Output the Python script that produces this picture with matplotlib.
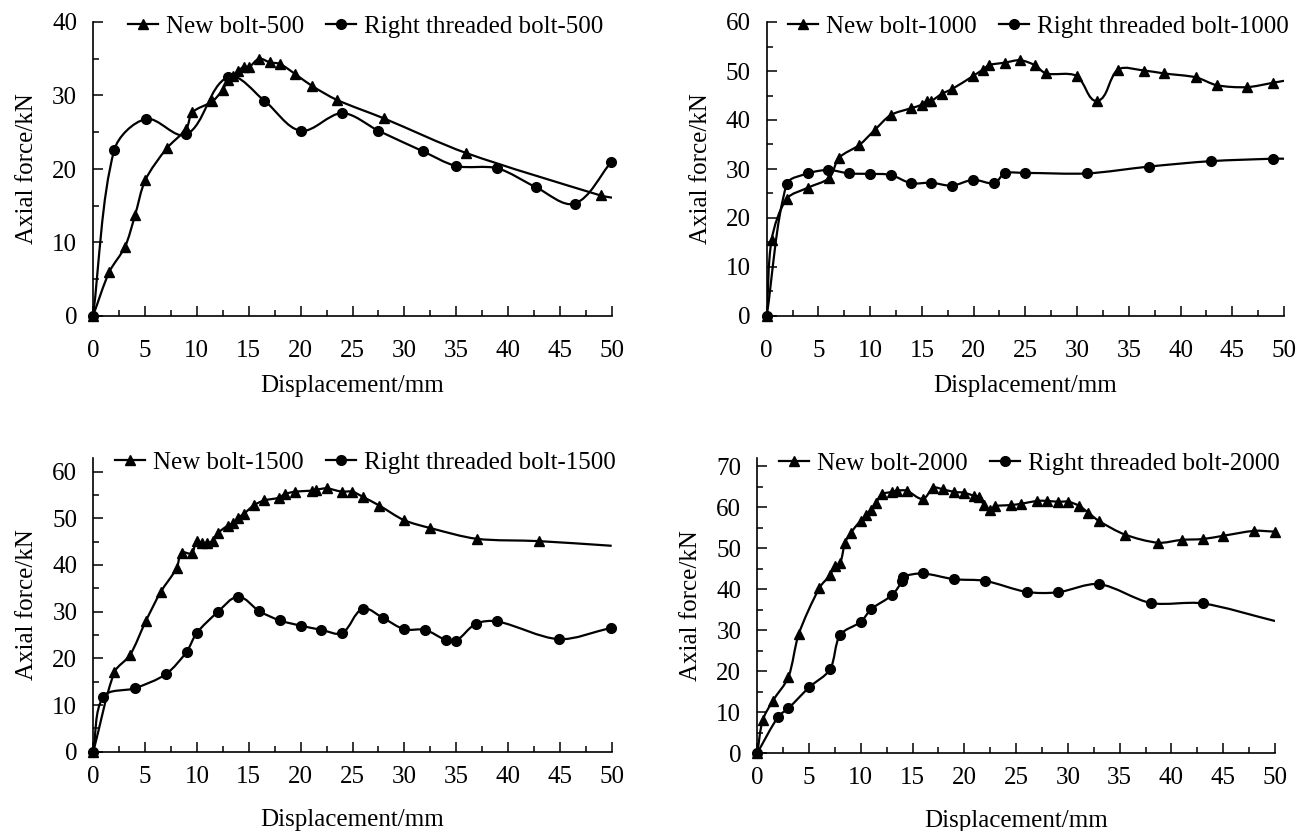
import matplotlib
matplotlib.use("Agg")
import matplotlib.pyplot as plt
from matplotlib.path import Path
from matplotlib.patches import PathPatch
from matplotlib.ticker import MultipleLocator
from matplotlib.lines import Line2D
import numpy as np

plt.rcParams['font.family'] = ['Liberation Serif', 'DejaVu Serif']
plt.rcParams['font.size'] = 18

# ---------------- data ----------------
# Panel 1 (500)
new500_x = [0, 1.57, 3.08, 4.05, 5.04, 7.1, 9.0, 9.57, 11.5, 12.5, 13.0, 13.5, 14.0, 14.5, 15.06,
            16.0, 17.05, 18.0, 19.5, 21.1, 23.5, 28.0, 35.9, 48.9, 50.0]
new500_y = [0, 6.0, 9.4, 13.7, 18.5, 22.8, 25.5, 27.7, 29.2, 30.8, 32.1, 32.6, 33.3, 33.9, 33.9,
            35.0, 34.5, 34.3, 32.9, 31.3, 29.4, 26.9, 22.2, 16.4, 16.1]
rt500_x = [0, 2.05, 5.1, 9.0, 13.0, 16.5, 20.0, 24.0, 27.5, 31.8, 35.0, 38.95, 42.7, 46.4, 49.9]
rt500_y = [0, 22.6, 26.8, 24.7, 32.5, 29.3, 25.2, 27.6, 25.2, 22.4, 20.4, 20.1, 17.5, 15.3, 20.9]

# Panel 2 (1000)
new1000_x = [0, 0.48, 1.93, 4.0, 6.05, 7.0, 8.95, 10.46, 11.98, 13.94, 14.97, 15.5, 15.9, 16.97,
             17.9, 19.96, 20.9, 21.5, 23.0, 24.5, 25.9, 27.0, 29.95, 31.95, 33.97, 36.45, 38.4,
             41.5, 43.5, 46.4, 48.95, 50.0]
new1000_y = [0, 15.6, 23.9, 26.2, 28.2, 32.3, 34.9, 38.0, 41.0, 42.4, 43.1, 43.9, 43.9, 45.4,
             46.3, 49.0, 50.3, 51.2, 51.7, 52.2, 51.2, 49.5, 49.0, 43.9, 50.3, 50.1, 49.5,
             48.7, 47.1, 46.7, 47.6, 48.0]
rt1000_x = [0, 1.93, 4.0, 5.95, 7.98, 9.98, 11.98, 13.94, 15.9, 17.9, 19.96, 22.0, 23.0, 24.96,
            30.98, 36.97, 42.9, 48.95, 50.0]
rt1000_y = [0, 26.9, 29.1, 29.8, 29.1, 29.0, 28.8, 27.1, 27.2, 26.6, 27.8, 27.1, 29.1, 29.2,
            29.1, 30.5, 31.6, 32.1, 32.1]

# Panel 3 (1500)
new1500_x = [0, 2.03, 3.54, 5.05, 6.5, 8.04, 8.52, 9.49, 9.97, 10.45, 11.0, 11.5, 12.0, 12.96,
             13.5, 13.98, 14.5, 15.5, 16.46, 17.9, 18.5, 19.5, 21.06, 21.5, 22.5, 23.95, 24.98,
             25.98, 27.6, 29.96, 32.5, 36.97, 42.95, 50.0]
new1500_y = [0, 17.0, 20.7, 27.9, 34.2, 39.3, 42.6, 42.5, 45.2, 44.6, 44.6, 45.2, 46.8, 48.4,
             48.9, 50.1, 50.9, 52.8, 53.8, 54.4, 55.2, 55.7, 55.9, 56.1, 56.4, 55.7, 55.7,
             54.6, 52.7, 49.6, 47.9, 45.6, 45.1, 44.1]
rt1500_x = [0, 0.97, 4.02, 7.0, 9.0, 9.97, 12.0, 13.98, 16.0, 18.0, 20.0, 22.0, 24.0, 25.98,
            27.97, 30.0, 32.0, 34.0, 34.97, 36.9, 38.97, 44.9, 49.9]
rt1500_y = [0, 11.8, 13.6, 16.6, 21.4, 25.4, 29.9, 33.2, 30.1, 28.1, 27.0, 26.1, 25.4, 30.6,
            28.6, 26.2, 26.1, 23.9, 23.7, 27.4, 27.9, 24.1, 26.5]

# Panel 4 (2000)
new2000_x = [0, 0.52, 1.49, 3.0, 4.0, 6.0, 7.02, 7.5, 8.0, 8.47, 9.02, 9.99, 10.5, 10.99, 11.47,
             12.0, 13.0, 13.47, 14.43, 15.98, 17.0, 17.97, 19.0, 19.97, 20.97, 21.45, 21.9,
             22.5, 22.97, 24.5, 25.5, 27.0, 28.0, 29.0, 30.05, 31.08, 31.98, 33.0, 35.5, 38.7,
             41.0, 43.0, 45.0, 48.0, 50.0]
new2000_y = [0, 8.0, 12.7, 18.5, 29.0, 40.3, 43.4, 45.7, 46.3, 51.3, 53.7, 56.7, 58.0, 59.4, 61.0,
             63.1, 63.7, 64.0, 64.0, 62.0, 64.7, 64.3, 63.7, 63.5, 62.7, 62.4, 60.5,
             59.3, 60.2, 60.5, 60.8, 61.5, 61.5, 61.3, 61.3, 60.3, 58.6, 56.6, 53.3, 51.3,
             52.0, 52.2, 53.0, 54.2, 54.0]
rt2000_x = [0, 2.03, 3.0, 5.0, 7.02, 8.0, 10.0, 11.0, 13.0, 14.0, 14.05, 15.98, 19.0, 22.0, 26.0,
            29.0, 33.0, 38.0, 43.0, 50.0]
rt2000_y = [0, 8.9, 10.9, 16.0, 20.4, 28.8, 32.0, 35.1, 38.5, 42.0, 43.0, 43.8, 42.4, 42.0, 39.3,
            39.2, 41.2, 36.6, 36.5, 32.2]

new_labels = ['New bolt-500', 'New bolt-1000', 'New bolt-1500', 'New bolt-2000']
rt_labels = ['Right threaded bolt-500', 'Right threaded bolt-1000',
             'Right threaded bolt-1500', 'Right threaded bolt-2000']
x_label = 'Displacement/mm'
y_label = 'Axial force/kN'


# ---------------- helpers ----------------
def smooth_path(ax, x, y, t=0.3):
    """Smoothed line through the points (bezier built in display space)."""
    data = np.column_stack([np.asarray(x, float), np.asarray(y, float)])
    pts = ax.transData.transform(data)
    n = len(pts)
    verts = [pts[0]]
    codes = [Path.MOVETO]

    def unit(v):
        nv = np.hypot(*v)
        return v / nv if nv > 0 else v

    for i in range(n - 1):
        p0 = pts[i - 1] if i > 0 else pts[i]
        p1 = pts[i]
        p2 = pts[i + 1]
        p3 = pts[i + 2] if i + 2 < n else pts[i + 1]
        seg = np.hypot(*(p2 - p1))
        c1 = p1 + unit(p2 - p0) * seg * t
        c2 = p2 - unit(p3 - p1) * seg * t
        verts += [c1, c2, p2]
        codes += [Path.CURVE4] * 3
    verts = ax.transData.inverted().transform(np.array(verts))
    return Path(verts, codes)


fig = plt.figure(figsize=(13, 8.31), dpi=100)

W, H = 1300, 831
def ax_rect(l, r, b, t):
    return [l / W, 1 - b / H, (r - l) / W, (b - t) / H]

panels = [
    dict(rect=ax_rect(93, 612, 316, 22), ylim=(0, 40),
         new=(new500_x, new500_y), rt=(rt500_x, rt500_y), new_last=False, rt_last=True,
         xpad=17, xlpad=10),
    dict(rect=ax_rect(766.7, 1284, 316, 22), ylim=(0, 60),
         new=(new1000_x, new1000_y), rt=(rt1000_x, rt1000_y), new_last=False, rt_last=False,
         xpad=17, xlpad=10),
    dict(rect=ax_rect(93.3, 611.7, 751.7, 458), ylim=(0, 62.9),
         new=(new1500_x, new1500_y), rt=(rt1500_x, rt1500_y), new_last=False, rt_last=True,
         xpad=10.5, xlpad=15),
    dict(rect=ax_rect(757.3, 1275, 753, 458.3), ylim=(0, 71.9),
         new=(new2000_x, new2000_y), rt=(rt2000_x, rt2000_y), new_last=True, rt_last=False,
         xpad=10, xlpad=15),
]

lw = 1.6
for k, p in enumerate(panels):
    ax = fig.add_axes(p['rect'])
    ax.set_xlim(0, 50)
    ax.set_ylim(*p['ylim'])
    for s in ['top', 'right']:
        ax.spines[s].set_visible(False)
    for s in ['left', 'bottom']:
        ax.spines[s].set_linewidth(1.2)
    ax.xaxis.set_major_locator(MultipleLocator(5))
    ax.xaxis.set_minor_locator(MultipleLocator(2.5))
    ax.yaxis.set_major_locator(MultipleLocator(10))
    ax.yaxis.set_minor_locator(MultipleLocator(5))
    ax.tick_params(which='major', direction='in', length=7, width=1.1, labelsize=18)
    ax.tick_params(which='minor', direction='in', length=4.5, width=1.1)
    ax.tick_params(axis='x', which='major', pad=p['xpad'])
    ax.tick_params(axis='y', which='major', pad=11.5)
    ax.set_xlabel(x_label, fontsize=18, labelpad=p['xlpad'])
    ax.set_ylabel(y_label, fontsize=18, labelpad=10)

    for key, mk, ms, last in [('new', '^', 7.5, p['new_last']), ('rt', 'o', 7, p['rt_last'])]:
        xs, ys = p[key]
        ax.add_patch(PathPatch(smooth_path(ax, xs, ys), fill=False, edgecolor='black', lw=lw,
                               zorder=3))
        n = len(xs) if last else len(xs) - 1
        ax.plot(xs[:n], ys[:n], linestyle='none', marker=mk, ms=ms, color='black',
                zorder=4, clip_on=False)

    handles = [Line2D([], [], color='black', lw=lw, marker='^', ms=7.5),
               Line2D([], [], color='black', lw=lw, marker='o', ms=7)]
    ax.legend(handles, [new_labels[k], rt_labels[k]], loc='center',
              bbox_to_anchor=(0.525, 0.983), ncol=2, frameon=False, fontsize=18,
              handlelength=1.2, handletextpad=0.33, columnspacing=0.88, borderpad=0,
              borderaxespad=0)

fig.savefig('out.png', dpi=100)
